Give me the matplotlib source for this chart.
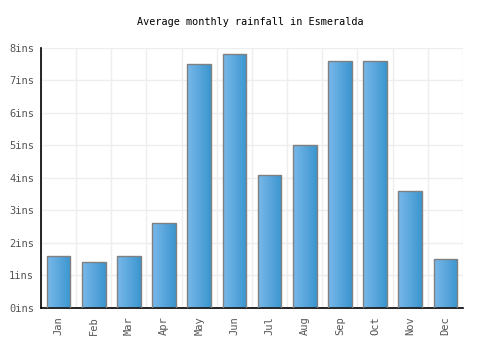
import matplotlib
matplotlib.use("Agg")
import matplotlib.pyplot as plt
import numpy as np
from matplotlib.colors import LinearSegmentedColormap

months = ["Jan", "Feb", "Mar", "Apr", "May", "Jun", "Jul", "Aug", "Sep", "Oct", "Nov", "Dec"]
rainfall = [1.6, 1.4, 1.6, 2.6, 7.5, 7.8, 4.1, 5.0, 7.6, 7.6, 3.6, 1.5]
yticks = [0, 1, 2, 3, 4, 5, 6, 7, 8]
ytick_labels = [f"{v}ins" for v in yticks]
title = "Average monthly rainfall in Esmeralda"

plt.rcParams['font.family'] = ['DejaVu Sans Mono']

fig = plt.figure(figsize=(5, 3.5), dpi=100)
ax = fig.add_axes([0.082, 0.12, 0.844, 0.743])

x = np.arange(len(months))
width = 0.67
bars = ax.bar(x, rainfall, width=width, color='none', edgecolor='#808080', linewidth=1.0, zorder=3)

cmap = LinearSegmentedColormap.from_list('g', ['#7ab8ea', '#3b96cf'])
grad = np.linspace(0, 1, 64).reshape(1, -1)
for b in bars:
    x0, y0 = b.get_x(), b.get_y()
    w, h = b.get_width(), b.get_height()
    im = ax.imshow(grad, cmap=cmap, extent=[x0, x0 + w, y0, y0 + h], aspect='auto', zorder=2, interpolation='bilinear')
    im.set_clip_path(b)

ax.set_xlim(-0.5, len(months) - 0.5)
ax.set_ylim(0, 8)
ax.set_yticks(yticks)
ax.set_yticklabels(ytick_labels)
ax.set_xticks(x)
ax.set_xticklabels(months, rotation=90)
ax.set_xticks(np.arange(-0.5, len(months), 1), minor=True)

ax.grid(True, which='major', axis='y', color='#eeeeee', linewidth=1, zorder=0)
ax.grid(True, which='minor', axis='x', color='#eeeeee', linewidth=1, zorder=0)
ax.set_axisbelow(True)

for s in ['top', 'right']:
    ax.spines[s].set_visible(False)
ax.spines['left'].set_color('black')
ax.spines['bottom'].set_color('black')
ax.spines['left'].set_linewidth(1.2)
ax.spines['bottom'].set_linewidth(1.2)

ax.tick_params(axis='both', which='both', length=0, labelsize=7.5, labelcolor='#555555')
ax.tick_params(axis='x', pad=6)
ax.tick_params(axis='y', pad=5)

fig.text(0.5, 0.937, title, ha='center', va='center', fontsize=7.3, color='black')

fig.savefig('out.png', dpi=100)
